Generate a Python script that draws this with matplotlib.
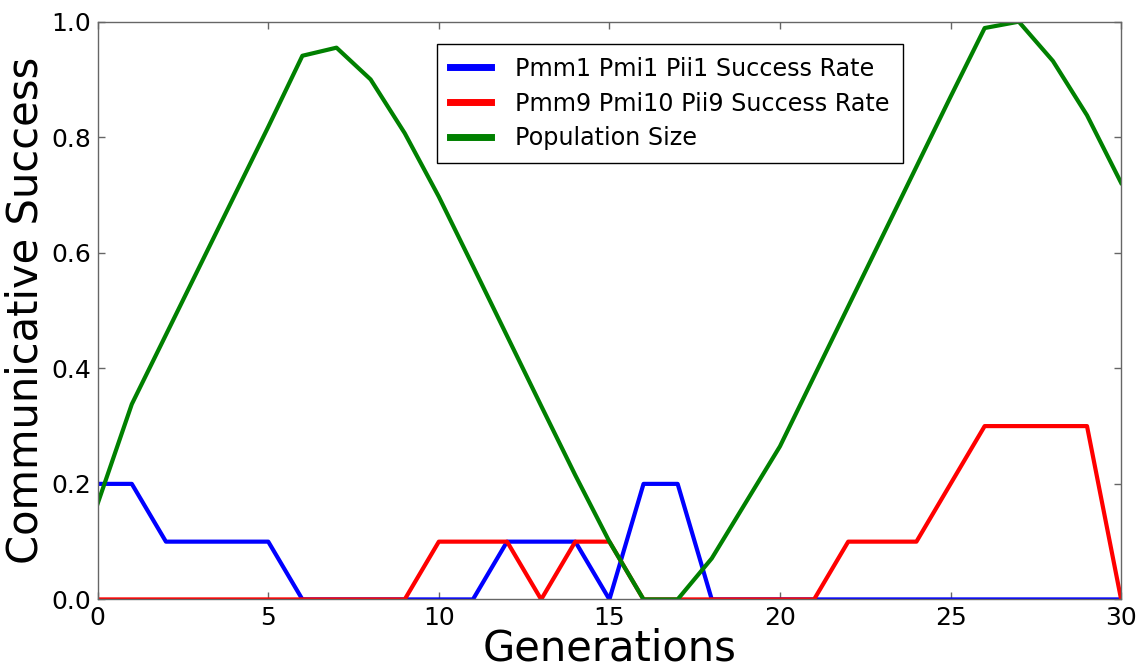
import matplotlib
matplotlib.use('Agg')
import matplotlib.pyplot as plt

# generations on the x axis
generations = list(range(31))

# success rate of the first form
pmm1_rate = [0.2, 0.2, 0.1, 0.1, 0.1, 0.1, 0.0, 0.0, 0.0, 0.0,
             0.0, 0.0, 0.1, 0.1, 0.1, 0.0, 0.2, 0.2, 0.0, 0.0,
             0.0, 0.0, 0.0, 0.0, 0.0, 0.0, 0.0, 0.0, 0.0, 0.0, 0.0]

# success rate of the second form
pmm9_rate = [0.0, 0.0, 0.0, 0.0, 0.0, 0.0, 0.0, 0.0, 0.0, 0.0,
             0.1, 0.1, 0.1, 0.0, 0.1, 0.1, 0.0, 0.0, 0.0, 0.0,
             0.0, 0.0, 0.1, 0.1, 0.1, 0.2, 0.3, 0.3, 0.3, 0.3, 0.0]

# normalised population size
population = [0.166, 0.338, 0.458, 0.578, 0.698, 0.818, 0.941, 0.955, 0.900, 0.807,
              0.697, 0.577, 0.456, 0.335, 0.215, 0.100, 0.0, 0.0, 0.071, 0.168,
              0.265, 0.386, 0.507, 0.628, 0.749, 0.870, 0.989, 1.0, 0.932, 0.838, 0.721]

fig = plt.figure(figsize=(11.44, 6.69), dpi=100)
ax = fig.add_axes([0.0854, 0.104, 0.8946, 0.8636])

ax.plot(generations, pmm1_rate, color='b', linewidth=3, label='Pmm1 Pmi1 Pii1 Success Rate')
ax.plot(generations, pmm9_rate, color='r', linewidth=3, label='Pmm9 Pmi10 Pii9 Success Rate')
ax.plot(generations, population, color='g', linewidth=3, label='Population Size')

ax.set_xlim(0, 30)
ax.set_ylim(0, 1.0)
ax.set_xticks([0, 5, 10, 15, 20, 25, 30])
ax.set_yticks([0.0, 0.2, 0.4, 0.6, 0.8, 1.0])
ax.set_yticklabels(['0.0', '0.2', '0.4', '0.6', '0.8', '1.0'])
ax.tick_params(direction='in', top=True, right=True, length=5, width=1,
               color='0.4', labelsize=18, pad=5)
for sp in ax.spines.values():
    sp.set_color('0.4')
    sp.set_linewidth(1)

ax.set_xlabel('Generations', fontsize=30, labelpad=-2)
ax.set_ylabel('Communicative Success', fontsize=30, labelpad=3)

leg = ax.legend(loc='upper center', bbox_to_anchor=(0.559, 0.962), fontsize=17.2,
                fancybox=False, framealpha=1, edgecolor='black',
                handlelength=1.75, handletextpad=1.0, borderpad=0.55,
                labelspacing=0.45, borderaxespad=0)
leg.get_frame().set_linewidth(1)
for line in leg.get_lines():
    line.set_linewidth(5)

fig.savefig('out.png', dpi=100, facecolor='white')
